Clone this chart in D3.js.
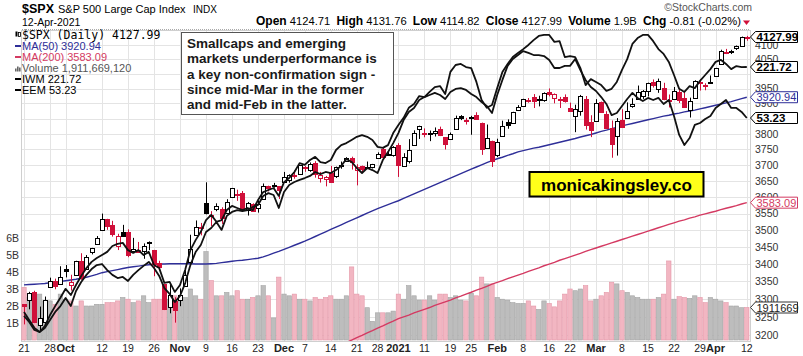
<!DOCTYPE html>
<html><head><meta charset="utf-8">
<script src="https://cdn.jsdelivr.net/npm/d3@7"></script>
<style>body{margin:0;background:#fff}svg{display:block;font-family:"Liberation Sans",Arial,sans-serif}</style>
</head><body><svg id="c" width="803" height="356"></svg>
<script>
const dates = ["2020-09-21","2020-09-22","2020-09-23","2020-09-24","2020-09-25","2020-09-28","2020-09-29","2020-09-30",
"2020-10-01","2020-10-02","2020-10-05","2020-10-06","2020-10-07","2020-10-08","2020-10-09","2020-10-12","2020-10-13","2020-10-14","2020-10-15","2020-10-16","2020-10-19","2020-10-20","2020-10-21","2020-10-22","2020-10-23","2020-10-26","2020-10-27","2020-10-28","2020-10-29","2020-10-30",
"2020-11-02","2020-11-03","2020-11-04","2020-11-05","2020-11-06","2020-11-09","2020-11-10","2020-11-11","2020-11-12","2020-11-13","2020-11-16","2020-11-17","2020-11-18","2020-11-19","2020-11-20","2020-11-23","2020-11-24","2020-11-25","2020-11-27","2020-11-30",
"2020-12-01","2020-12-02","2020-12-03","2020-12-04","2020-12-07","2020-12-08","2020-12-09","2020-12-10","2020-12-11","2020-12-14","2020-12-15","2020-12-16","2020-12-17","2020-12-18","2020-12-21","2020-12-22","2020-12-23","2020-12-24","2020-12-28","2020-12-29","2020-12-30","2020-12-31",
"2021-01-04","2021-01-05","2021-01-06","2021-01-07","2021-01-08","2021-01-11","2021-01-12","2021-01-13","2021-01-14","2021-01-15","2021-01-19","2021-01-20","2021-01-21","2021-01-22","2021-01-25","2021-01-26","2021-01-27","2021-01-28","2021-01-29",
"2021-02-01","2021-02-02","2021-02-03","2021-02-04","2021-02-05","2021-02-08","2021-02-09","2021-02-10","2021-02-11","2021-02-12","2021-02-16","2021-02-17","2021-02-18","2021-02-19","2021-02-22","2021-02-23","2021-02-24","2021-02-25","2021-02-26",
"2021-03-01","2021-03-02","2021-03-03","2021-03-04","2021-03-05","2021-03-08","2021-03-09","2021-03-10","2021-03-11","2021-03-12","2021-03-15","2021-03-16","2021-03-17","2021-03-18","2021-03-19","2021-03-22","2021-03-23","2021-03-24","2021-03-25","2021-03-26","2021-03-29","2021-03-30","2021-03-31",
"2021-04-01","2021-04-05","2021-04-06","2021-04-07","2021-04-08","2021-04-09","2021-04-12"];

const prevClose = 3319.47;
const opens = [3285.57,3295.75,3320.11,3226.14,3236.66,3333.90,3350.92,3341.21,
3385.87,3338.94,3367.27,3408.74,3384.56,3434.28,3459.67,3500.02,3534.01,3515.47,3453.72,3493.50,3493.66,3439.38,3439.91,3438.50,3464.90,3441.42,3403.15,3342.48,3277.17,3293.59,
3296.20,3336.25,3406.46,3485.74,3508.34,3583.04,3543.26,3563.22,3562.67,3552.57,3600.16,3610.31,3612.09,3559.41,3579.31,3566.82,3594.52,3635.50,3638.55,3634.18,
3645.87,3653.78,3668.28,3670.94,3694.73,3683.05,3705.98,3659.13,3656.08,3675.27,3666.41,3696.25,3713.65,3722.39,3684.28,3698.08,3693.42,3694.03,3723.03,3750.01,3736.19,3733.27,
3764.61,3698.02,3712.20,3764.71,3815.05,3803.14,3801.62,3802.23,3814.98,3788.73,3781.88,3816.22,3857.46,3844.24,3851.68,3862.96,3836.83,3755.75,3778.05,
3731.17,3791.84,3840.27,3836.66,3878.30,3892.59,3910.49,3920.78,3916.40,3911.65,3939.61,3918.50,3915.86,3921.16,3885.55,3857.07,3873.71,3915.80,3839.66,
3842.51,3903.64,3863.99,3818.53,3793.58,3844.39,3851.93,3891.99,3915.54,3924.52,3942.96,3973.59,3949.57,3953.50,3913.14,3916.48,3937.60,3919.93,3879.34,3917.12,3969.31,3963.34,3967.25,
3992.78,4034.44,4075.57,4074.29,4089.95,4096.11,4124.71];
const highs = [3285.57,3320.31,3323.35,3278.70,3306.88,3360.74,3357.92,3393.56,
3397.18,3369.10,3409.57,3431.56,3426.26,3447.28,3482.34,3549.85,3534.01,3527.94,3489.08,3515.76,3502.42,3476.93,3464.86,3460.53,3466.46,3441.42,3409.51,3342.48,3341.05,3304.93,
3330.14,3389.49,3486.25,3529.05,3521.58,3645.99,3557.22,3581.16,3569.02,3593.66,3628.51,3623.11,3619.09,3585.22,3581.23,3589.81,3642.31,3635.50,3644.31,3634.18,
3678.45,3670.96,3682.73,3699.20,3697.41,3708.45,3712.39,3678.49,3665.91,3697.61,3695.29,3711.27,3725.12,3726.70,3702.90,3698.26,3711.24,3703.82,3740.51,3756.12,3744.63,3760.20,
3769.99,3737.83,3783.04,3811.55,3826.69,3817.86,3810.78,3820.96,3823.60,3788.73,3804.53,3859.75,3861.45,3852.31,3859.23,3870.90,3836.83,3830.50,3778.05,
3784.32,3843.09,3847.51,3872.42,3894.56,3915.77,3918.35,3931.50,3925.99,3937.23,3950.43,3933.61,3921.98,3930.41,3902.92,3895.98,3928.65,3925.02,3861.08,
3914.50,3906.41,3874.47,3843.67,3851.69,3881.06,3903.76,3917.35,3960.27,3944.99,3970.08,3981.04,3983.87,3969.62,3930.12,3955.31,3949.13,3942.08,3919.54,3978.19,3981.83,3968.01,3994.41,
4020.63,4083.42,4086.23,4083.13,4098.19,4129.48,4131.76];
const lows = [3229.10,3270.95,3232.57,3209.45,3228.44,3332.91,3327.54,3340.47,
3361.39,3323.69,3367.27,3354.54,3384.56,3428.15,3458.07,3499.61,3500.86,3480.55,3440.89,3480.45,3419.93,3435.65,3433.06,3415.34,3440.45,3364.86,3388.71,3268.89,3259.82,3233.94,
3279.74,3336.25,3405.17,3485.74,3484.34,3547.48,3511.91,3557.00,3518.58,3552.57,3600.16,3588.68,3567.33,3543.84,3556.85,3552.77,3594.52,3617.76,3629.33,3594.39,
3645.87,3644.84,3657.17,3670.94,3678.88,3678.83,3660.54,3645.18,3633.40,3645.84,3659.62,3688.57,3710.87,3685.84,3636.48,3676.16,3689.28,3689.32,3723.03,3723.31,3730.21,3726.88,
3662.71,3695.07,3705.34,3764.71,3783.60,3789.02,3776.51,3791.50,3792.86,3749.62,3780.37,3816.22,3845.05,3830.41,3797.16,3847.78,3732.48,3755.75,3694.12,
3725.62,3791.84,3816.68,3836.66,3874.93,3892.59,3902.64,3884.94,3890.39,3905.78,3923.85,3900.43,3885.03,3903.07,3874.71,3805.59,3859.60,3814.04,3789.54,
3842.51,3868.57,3818.86,3723.34,3730.19,3819.25,3851.93,3885.73,3915.54,3915.21,3923.54,3953.44,3935.74,3910.86,3886.75,3914.16,3901.57,3889.07,3853.50,3917.12,3943.25,3944.35,3966.98,
3992.78,4034.44,4068.14,4068.31,4082.54,4095.51,4114.82];
const closes = [3281.06,3315.57,3236.92,3246.59,3298.46,3351.60,3335.47,3363.00,
3380.80,3348.42,3408.60,3360.97,3419.44,3446.83,3477.14,3534.22,3511.93,3488.67,3483.34,3483.81,3426.92,3443.12,3435.56,3453.49,3465.39,3400.97,3390.68,3271.03,3310.11,3269.96,
3310.24,3369.16,3443.44,3510.45,3509.44,3550.50,3545.53,3572.66,3537.01,3585.15,3626.91,3609.53,3567.79,3581.87,3557.54,3577.59,3635.41,3629.65,3638.35,3621.63,
3662.45,3669.01,3666.72,3699.12,3691.96,3702.25,3672.82,3668.10,3663.46,3647.49,3694.62,3701.17,3722.48,3709.41,3694.92,3687.26,3690.01,3703.06,3735.36,3727.04,3732.04,3756.07,
3700.65,3726.86,3748.14,3803.79,3824.68,3799.61,3801.19,3809.84,3795.54,3768.25,3798.91,3851.85,3853.07,3841.47,3855.36,3849.62,3750.77,3787.38,3714.24,
3773.86,3826.31,3830.17,3871.74,3886.83,3915.59,3911.23,3909.88,3916.38,3934.83,3932.59,3931.33,3913.97,3906.71,3876.50,3881.37,3925.43,3829.34,3811.15,
3901.82,3870.29,3819.72,3768.47,3841.94,3821.35,3875.44,3898.81,3939.34,3943.34,3968.94,3962.71,3974.12,3915.46,3913.10,3940.59,3910.52,3889.14,3909.52,3974.54,3971.09,3958.55,3972.89,
4019.87,4077.91,4073.94,4079.95,4097.17,4128.80,4127.99];

// volume in billions of shares
const volumes = [3.1,2.5,2.6,2.7,2.3,2.3,2.1,2.7,2.4,2.3,
2.0,2.3,2.0,2.0,2.1,2.1,2.2,2.2,2.3,2.5,
2.4,2.2,2.3,2.6,2.2,2.4,2.4,2.6,2.4,2.6,
2.3,2.5,3.0,2.6,2.4,5.2,3.5,2.6,2.6,2.8,
2.6,2.9,2.4,2.4,2.5,2.6,3.2,2.6,1.3,3.7,
2.7,2.6,2.7,2.4,2.4,2.3,2.5,2.4,2.5,2.6,
2.4,2.4,2.6,4.3,2.7,2.6,1.9,1.1,1.6,1.6,
1.6,1.7,2.7,2.4,3.2,2.6,2.35,2.35,2.6,2.35,
2.7,2.7,2.5,2.6,2.35,2.3,2.75,2.6,3.7,3.3,
3.3,2.5,2.4,2.35,2.2,2.15,2.15,2.3,2.0,1.8,
2.3,2.15,1.95,2.3,2.7,3.0,2.9,3.0,3.2,2.3,
2.4,2.6,2.8,3.4,3.3,2.9,2.8,2.6,2.5,2.4,
2.4,2.4,2.5,2.7,4.65,2.4,2.55,2.5,2.45,2.6,
2.5,2.2,2.5,2.4,2.3,2.2,2.0,2.0,1.9,1.91166912];

const ma50 = [3340,3341,3342,3343,3344,3346,3348,3350,3352,3354,
3356,3359,3362,3366,3370,3375,3378,3381,3384,3387,
3390,3392,3394,3396,3398,3399,3400,3400,3401,3401,
3401,3401,3401,3400,3400,3400,3401,3402,3404,3406,
3408,3410,3411,3413,3415,3417,3421,3426,3432,3437,
3443,3449,3455,3461,3467,3474,3481,3488,3495,3502,
3509,3516,3523,3530,3537,3544,3551,3558,3565,3571,
3577,3583,3589,3596,3603,3610,3617,3624,3631,3638,
3645,3652,3659,3666,3673,3680,3687,3694,3701,3708,
3714,3720,3725,3731,3736,3742,3746,3750,3754,3757,
3761,3765,3769,3773,3777,3781,3785,3790,3794,3798,
3803,3808,3812,3817,3821,3826,3830,3834,3838,3842,
3846,3850,3854,3858,3861,3865,3868,3872,3875,3878,
3882,3886,3890,3894,3898,3902,3906,3911,3916,3920.94];

// MA(200) enters the visible range on 2020-12-17
const ma200Start = "2020-12-17";
const ma200 = [3180,3186,3193,3199,3206,3212,3219,3225,
3232,3238,3245,3250,3255,3261,3266,3271,3276,3282,
3287,3292,3297,3303,3308,3314,3319,3325,3330,3336,
3342,3347,3352,3358,3363,3368,3373,3379,3384,3389,
3395,3400,3405,3411,3416,3421,3426,3431,3437,3442,
3447,3452,3457,3462,3467,3472,3477,3482,3487,3492,
3497,3502,3507,3512,3517,3522,3527,3531,3536,3540,
3545,3549,3553,3557,3562,3566,3570,3574,3579,3583.09];

const iwm = [150.8,148.5,146.2,145.0,146.7,149.9,152.5,154.9,157.5,155.7,
158.6,161.2,163.5,165.3,166.4,167.3,168.2,169.9,170.5,170.8,
168.7,167.9,168.7,167.3,168.2,164.4,163.5,159.2,159.5,156.6,
158.6,163.0,168.7,171.6,174.0,177.4,178.9,176.9,177.4,180.3,
181.5,180.9,180.3,180.9,180.3,183.2,185.5,186.1,186.7,184.4,
188.4,189.6,191.3,193.9,193.4,194.8,195.7,194.2,193.9,194.8,
197.7,199.1,199.7,200.6,201.5,202.0,201.5,200.6,198.6,198.3,
199.1,202.6,204.9,207.0,209.9,211.0,213.3,213.0,214.5,215.9,
216.2,213.9,220.3,222.3,222.6,221.7,221.4,217.4,212.2,209.9,
210.7,215.6,220.3,222.6,224.6,225.8,226.9,228.1,229.5,230.7,
231.0,231.0,229.0,229.2,224.6,224.9,224.6,221.4,216.5,218.2,
217.4,216.5,214.8,215.4,217.4,220.9,224.0,228.4,230.1,231.0,
231.0,229.2,226.9,225.5,223.2,219.4,215.4,214.5,216.2,215.6,
217.7,219.4,221.1,223.2,223.8,222.6,221.1,222.0,221.7,221.72];

const eem = [43.77,43.48,43.10,43.00,43.19,43.57,43.96,44.24,44.63,44.24,
44.96,45.39,45.73,46.01,46.20,46.25,45.96,45.73,45.58,45.63,
45.44,45.73,45.96,46.16,46.35,46.06,45.68,45.10,44.82,44.43,
44.72,45.34,46.20,46.82,47.16,47.78,47.97,48.26,47.88,48.55,
48.74,48.83,48.78,48.83,48.98,49.07,49.50,49.64,49.55,48.93,
49.69,50.03,50.17,50.27,50.36,50.46,50.65,50.55,50.65,50.60,
50.74,50.94,51.27,51.13,50.84,50.60,50.84,50.74,50.60,51.22,
51.60,52.03,52.51,53.13,53.52,53.71,54.09,54.23,54.33,54.43,
54.33,54.14,54.47,54.62,54.66,54.57,54.38,54.23,53.99,53.80,
53.47,54.33,55.05,55.72,56.05,56.24,56.43,56.34,56.24,56.24,
56.19,56.00,55.62,55.62,55.72,55.72,56.05,55.52,55.05,54.71,
54.52,54.23,53.90,53.37,53.47,53.80,54.14,54.43,54.19,54.04,
54.19,54.09,54.19,53.90,54.09,53.33,52.42,51.94,52.27,52.90,
52.99,53.18,53.33,53.71,53.90,54.09,53.71,53.71,53.52,53.23];

const tickDates = ["2020-09-21","2020-09-28","2020-10-01","2020-10-12","2020-10-19","2020-10-26","2020-11-02","2020-11-09","2020-11-16","2020-11-23","2020-12-01","2020-12-07","2020-12-14","2020-12-21","2020-12-28","2021-01-04","2021-01-11","2021-01-19","2021-01-25","2021-02-01","2021-02-08","2021-02-16","2021-02-22","2021-03-01","2021-03-08","2021-03-15","2021-03-22","2021-03-29","2021-04-01","2021-04-12"];
const tickLabels = ["21","28","Oct","12","19","26","Nov","9","16","23","Dec","7","14","21","28","2021","11","19","25","Feb","8","16","22","Mar","8","15","22","29","Apr","12"];
const priceTicks = [3200,3250,3300,3350,3400,3450,3500,3550,3600,3650,3700,3750,3800,3850,3900,3950,4000,4050,4100];
// labels that the value tags fully cover in the original are not printed
const priceTickLabels = [3200,3250,3300,3350,3400,3450,3500,3550,3600,3650,3700,3750,3800,3900,3950,4050,4100];
const volTicks = [1,2,3,4,5,6];
const volTickLabels = ["1B","2B","3B","4B","5B","6B"];
const annotation = ["Smallcaps and emerging","markets underperformance is","a key non-confirmation sign -","since mid-Mar in the former","and mid-Feb in the latter."];

const RED = "#d0103a", NAVY = "#2e2e98", MA200C = "#d43a62";
const plotL = 21, plotR = 750, plotT = 30, plotB = 341;
const svg = d3.select("#c");

const x = d3.scalePoint().domain(dates).range([24, 746.8]);
const y = d3.scaleLog().domain([3200, 4127.99]).range([335, 37]);
const yVol = d3.scaleLinear().domain([0, 6]).range([340, 238]);
const yIwm = d3.scaleLinear().domain([145, 221.72]).range([332, 67]);
const yEem = d3.scaleLinear().domain([43, 53.23]).range([332, 118]);

svg.append("defs").append("clipPath").attr("id","clip").append("rect")
  .attr("x",plotL).attr("y",plotT).attr("width",plotR-plotL).attr("height",plotB-plotT);

// header
const hdr = svg.append("g");
hdr.append("text").attr("x",22).attr("y",13).attr("font-size",12.5).attr("font-weight","bold").text("$SPX");
hdr.append("text").attr("x",58).attr("y",13).attr("font-size",11).text("S&P 500 Large Cap Index");
hdr.append("text").attr("x",193).attr("y",13).attr("font-size",10).text("INDX");
hdr.append("text").attr("x",22).attr("y",26).attr("font-size",10.5).text("12-Apr-2021");
hdr.append("text").attr("x",752).attr("y",11).attr("text-anchor","end").attr("font-size",10.5).attr("fill","#555").text("\u00A9StockCharts.com");
const ql = hdr.append("text").attr("x",741).attr("y",24.5).attr("text-anchor","end").style("white-space","pre");
[["Open",1],[" 4124.71  ",0],["High",1],[" 4131.76  ",0],["Low",1],[" 4114.82  ",0],["Close",1],[" 4127.99  ",0],["Volume",1],[" 1.9B  ",0],["Chg",1],[" -0.81 (-0.02%)",0]]
 .forEach(([t,b]) => ql.append("tspan").attr("font-size", b?12:11.2).attr("font-weight", b?"bold":"normal").text(t));
hdr.append("path").attr("d","M743,20.5 L750,20.5 L746.5,25 Z").attr("fill",RED);
hdr.append("line").attr("x1",22).attr("x2",750).attr("y1",29.5).attr("y2",29.5).attr("stroke","#aaa").attr("stroke-dasharray","1,1");

// grid
const grid = svg.append("g");
grid.selectAll("line.h").data(priceTicks).join("line")
  .attr("x1",plotL).attr("x2",plotR).attr("y1",d=>Math.round(y(d))+0.5).attr("y2",d=>Math.round(y(d))+0.5)
  .attr("stroke","#e4e4e4");
grid.selectAll("line.v").data(tickDates).join("line")
  .attr("x1",d=>Math.round(x(d))+0.5).attr("x2",d=>Math.round(x(d))+0.5).attr("y1",plotT).attr("y2",plotB)
  .attr("stroke","#e4e4e4");
svg.append("rect").attr("x",plotL+0.5).attr("y",plotT+0.5).attr("width",plotR-plotL).attr("height",plotB-plotT)
  .attr("fill","none").attr("stroke","#cfcfcf");

const plot = svg.append("g").attr("clip-path","url(#clip)");

// volume
const idx = d3.range(dates.length);
const isDown = i => closes[i] < (i === 0 ? prevClose : closes[i-1]);
plot.append("g").selectAll("rect").data(idx).join("rect")
  .attr("x", i => x(dates[i]) - 2.2).attr("width", 4.4)
  .attr("y", i => yVol(volumes[i])).attr("height", i => yVol(0) - yVol(volumes[i]))
  .attr("fill", i => isDown(i) ? "#f2b6c2" : "#bdbdbd")
  .attr("stroke", i => isDown(i) ? "#e497a8" : "#a4a4a4").attr("stroke-width",0.6);

// moving averages
const lineP = d3.line().x(d=>d[0]).y(d=>d[1]);
plot.append("path").attr("fill","none").attr("stroke",NAVY).attr("stroke-width",1.4)
  .attr("d", lineP(ma50.map((v,i)=>[x(dates[i]), y(v)])));
const s200 = dates.indexOf(ma200Start);
plot.append("path").attr("fill","none").attr("stroke",MA200C).attr("stroke-width",1.4)
  .attr("d", lineP(ma200.map((v,i)=>[x(dates[s200+i]), y(v)])));

// candles
const cg = plot.append("g");
idx.forEach(i => {
  const cx = Math.round(x(dates[i]));
  const col = isDown(i) ? RED : "#000";
  const hollow = closes[i] >= opens[i];
  cg.append("line").attr("x1",cx+0.5).attr("x2",cx+0.5).attr("y1",y(highs[i])).attr("y2",y(lows[i]))
    .attr("stroke",col).attr("stroke-width",1);
  const y0 = Math.round(y(Math.max(opens[i],closes[i]))), y1 = Math.round(y(Math.min(opens[i],closes[i])));
  cg.append("rect").attr("x",cx-1.5).attr("y",y0+0.5).attr("width",4).attr("height",Math.max(1,y1-y0))
    .attr("fill", hollow ? "#fff" : col).attr("stroke",col).attr("stroke-width",1);
});

// overlays IWM / EEM
plot.append("path").attr("fill","none").attr("stroke","#111").attr("stroke-width",1.8).attr("stroke-linejoin","round")
  .attr("d", lineP(iwm.map((v,i)=>[x(dates[i]), yIwm(v)])));
plot.append("path").attr("fill","none").attr("stroke","#111").attr("stroke-width",1.8).attr("stroke-linejoin","round")
  .attr("d", lineP(eem.map((v,i)=>[x(dates[i]), yEem(v)])));

// axes labels
const ax = svg.append("g").attr("font-size",10.5).attr("fill","#333");
ax.selectAll("text.p").data(priceTickLabels).join("text").attr("x",755).attr("y",d=>y(d)+3.8).text(d=>d);
ax.selectAll("text.v").data(volTicks).join("text").attr("x",19).attr("text-anchor","end")
  .attr("y",d=>yVol(d)+3.8).text((d,i)=>volTickLabels[i]);
svg.append("g").selectAll("text").data(tickDates).join("text")
  .attr("x",d=>x(d)).attr("y",352).attr("text-anchor","middle")
  .attr("font-size",(d,i)=>/^[A-Z]/.test(tickLabels[i])||tickLabels[i]==="2021" ? 11 : 10.5)
  .attr("font-weight",(d,i)=>/^[A-Z]/.test(tickLabels[i])||tickLabels[i]==="2021" ? "bold":"normal")
  .attr("fill","#222").text((d,i)=>tickLabels[i]);

// right-side value tags
function tag(yy, txt, stroke, color, bold){
  const g = svg.append("g");
  g.append("path").attr("d",`M750.5,${yy} L755.5,${yy-5.5} L797.5,${yy-5.5} L797.5,${yy+5.5} L755.5,${yy+5.5} Z`)
    .attr("fill","#fff").attr("stroke",stroke).attr("stroke-width",1);
  g.append("text").attr("x",756.5).attr("y",yy+4).attr("font-size",bold?11.5:11).attr("font-weight",bold?"bold":"normal")
    .attr("fill",color).text(txt);
}
tag(y(closes[closes.length-1]), "4127.99", "#000", "#000", true);
tag(yIwm(iwm[iwm.length-1]), "221.72", "#000", "#000", true);
tag(y(ma50[ma50.length-1]), "3920.94", NAVY, NAVY, false);
tag(yEem(eem[eem.length-1]), "53.23", "#000", "#000", true);
tag(y(ma200[ma200.length-1]), "3583.09", MA200C, MA200C, false);
tag(yVol(volumes[volumes.length-1]), "1911669", "#333", "#222", false);

// legend
const lg = svg.append("g");
lg.append("rect").attr("x",15.5).attr("y",31.5).attr("width",2).attr("height",5).attr("fill","#000");
lg.append("rect").attr("x",18.5).attr("y",32.5).attr("width",2).attr("height",4).attr("fill","#fff").attr("stroke","#000").attr("stroke-width",0.8);
lg.append("text").attr("x",22).attr("y",38.5).attr("font-family","DejaVu Sans Mono").attr("font-size",11.5).text("$SPX (Daily) 4127.99");
const items = [["MA(50) 3920.94",NAVY,49.5],["MA(200) 3583.09",MA200C,60.5],["Volume 1,911,669,120","#555",71.5],["IWM 221.72","#000",82.5],["EEM 53.23","#000",93.5]];
items.forEach(([t,c,yy],k) => {
  if (k === 2) {
    [[15,3],[17,5],[19,4]].forEach(([bx,bh]) => lg.append("rect").attr("x",bx).attr("y",yy-bh).attr("width",1.6).attr("height",bh).attr("fill","#666"));
  } else {
    lg.append("line").attr("x1",15).attr("x2",21).attr("y1",yy-3.5).attr("y2",yy-3.5).attr("stroke",c).attr("stroke-width",2);
  }
  lg.append("text").attr("x",22).attr("y",yy).attr("font-size",11).attr("fill",c).text(t);
});

// annotation box
const an = svg.append("g");
an.append("rect").attr("x",181.5).attr("y",32.5).attr("width",212).attr("height",82).attr("fill","#fff").attr("stroke","#555");
an.selectAll("text").data(annotation).join("text").attr("x",187).attr("y",(d,i)=>48+i*15.3)
  .attr("font-size",13.5).attr("font-weight","bold").attr("fill","#1a1a1a").text(d=>d);

// watermark
const wm = svg.append("g");
wm.append("rect").attr("x",529.5).attr("y",172).attr("width",174).attr("height",24.5).attr("fill","#ffff1a").attr("stroke","#000").attr("stroke-width",2);
wm.append("text").attr("x",616.5).attr("y",191).attr("text-anchor","middle").attr("font-size",17).attr("font-weight","bold").text("monicakingsley.co");
</script></body></html>
